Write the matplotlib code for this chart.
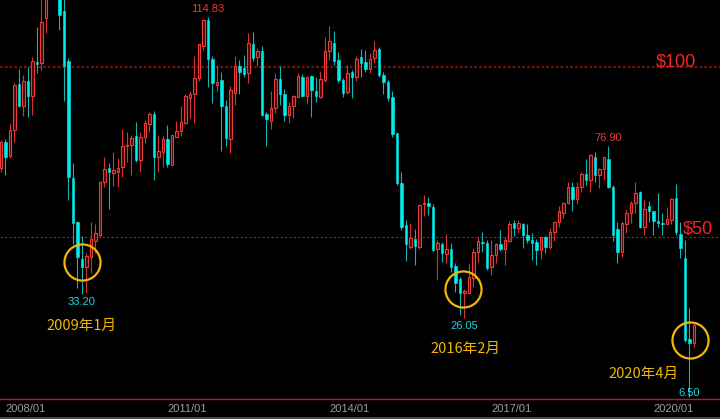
import numpy as np
import matplotlib
matplotlib.use("Agg")
import matplotlib.pyplot as plt
from matplotlib.patches import Rectangle

plt.rcParams['font.family'] = ['Liberation Sans', 'Noto Sans CJK SC', 'DejaVu Sans']

# monthly candles, first one is 2007/07
start_year, start_month = 2007, 7

opens = [70.2, 78.0, 73.8, 81.5, 95.0, 88.5, 95.9, 91.4, 101.6, 101.1, 114.3, 127.8,
         140.0, 124.1, 116.5, 101.8, 67.3, 54.5, 43.4, 41.3, 44.0, 48.9, 50.6, 66.3,
         70.4, 68.9, 69.2, 70.5, 76.9, 77.1, 79.7, 72.6, 79.5, 83.2, 86.1, 73.6,
         75.1, 78.7, 71.2, 79.5, 81.2, 83.4, 91.0, 92.0, 96.7, 106.3, 113.8, 102.4,
         94.7, 96.2, 88.5, 78.7, 92.3, 100.4, 99.6, 98.1, 106.8, 103.0, 104.8, 86.2,
         84.2, 87.8, 96.4, 92.0, 85.9, 88.5, 91.3, 97.2, 91.5, 97.4, 93.0, 91.1,
         96.2, 104.8, 107.2, 102.1, 96.2, 92.5, 98.6, 97.0, 103.0, 101.6, 99.3, 102.5,
         105.2, 97.6, 95.7, 91.3, 80.5, 66.0, 53.5, 47.2, 49.3, 47.0, 59.7, 60.1,
         58.9, 46.4, 47.9, 45.0, 46.4, 41.5, 37.5, 33.4, 33.4, 37.8, 45.7, 48.6,
         48.1, 41.1, 44.7, 47.9, 46.4, 48.9, 54.0, 52.5, 53.8, 50.6, 49.1, 48.6,
         46.2, 49.9, 47.0, 51.6, 54.5, 57.2, 59.9, 64.6, 61.1, 64.6, 68.5, 66.8,
         73.4, 68.2, 69.9, 72.8, 64.8, 52.3, 45.7, 53.8, 57.0, 59.9, 63.3, 52.8,
         59.1, 57.7, 54.8, 54.2, 53.8, 55.0, 61.4, 50.8, 43.7, 19.9, 18.7]
highs = [78.5, 78.7, 83.6, 95.2, 99.3, 97.6, 100.1, 103.0, 111.7, 121.0, 135.0, 140.4,
         147.3, 128.6, 130.0, 102.7, 71.7, 54.8, 50.3, 45.2, 54.5, 53.8, 66.5, 73.4,
         71.7, 75.1, 73.1, 81.7, 81.0, 80.0, 83.9, 81.0, 84.4, 86.9, 87.1, 80.0,
         79.7, 82.9, 80.0, 84.2, 88.5, 92.0, 93.0, 103.2, 106.8, 114.0, 114.83, 103.2,
         100.6, 98.6, 90.3, 94.4, 103.2, 102.1, 103.5, 110.1, 110.4, 105.5, 106.2, 86.9,
         93.0, 98.3, 100.3, 93.4, 89.8, 91.8, 98.1, 97.9, 97.4, 97.6, 97.2, 98.9,
         108.7, 112.1, 110.7, 104.5, 96.7, 100.6, 99.1, 103.2, 105.2, 104.9, 104.2, 107.5,
         106.0, 98.6, 96.2, 93.0, 80.7, 69.2, 55.0, 54.2, 52.3, 59.7, 62.4, 61.7,
         59.7, 49.1, 48.6, 50.8, 48.1, 42.3, 38.2, 34.6, 42.3, 46.7, 49.9, 51.6,
         49.1, 49.1, 48.3, 52.1, 49.9, 54.8, 55.0, 55.0, 54.2, 53.8, 51.1, 49.3,
         50.1, 50.3, 52.5, 54.8, 59.1, 60.4, 66.3, 66.3, 66.3, 69.2, 72.8, 74.4,
         75.1, 70.2, 73.6, 76.9, 65.3, 54.5, 54.5, 58.1, 60.7, 66.3, 63.6, 60.9,
         60.7, 57.7, 63.0, 57.0, 58.8, 61.4, 65.6, 54.5, 49.1, 29.0, 24.8]
lows = [69.2, 68.2, 73.1, 78.0, 88.1, 85.6, 85.2, 85.9, 98.3, 99.1, 110.1, 122.3,
        120.4, 110.9, 90.1, 60.9, 47.9, 34.9, 33.2, 33.4, 39.3, 45.2, 50.1, 64.8,
        58.1, 65.0, 64.8, 67.7, 72.2, 68.2, 72.2, 69.2, 77.5, 81.0, 66.8, 69.2,
        70.7, 70.5, 71.2, 79.5, 79.7, 83.2, 84.9, 83.4, 95.9, 105.0, 94.2, 89.3,
        93.0, 75.4, 76.8, 74.8, 88.8, 92.1, 97.0, 95.2, 101.8, 100.3, 85.6, 76.8,
        81.7, 86.6, 88.8, 84.2, 83.6, 84.9, 91.1, 91.1, 89.1, 85.4, 89.8, 90.8,
        95.7, 102.1, 100.6, 95.4, 91.3, 92.1, 90.8, 96.0, 97.0, 98.6, 98.3, 101.1,
        97.2, 92.1, 90.1, 79.3, 65.3, 52.1, 43.0, 46.4, 41.8, 46.4, 56.2, 56.4,
        46.0, 37.4, 42.7, 42.3, 39.8, 33.9, 27.1, 26.05, 33.3, 35.2, 42.7, 45.7,
        40.3, 38.8, 42.3, 46.0, 41.8, 48.6, 50.3, 51.1, 46.7, 48.1, 43.2, 41.8,
        43.4, 45.4, 46.4, 48.8, 53.0, 55.5, 59.7, 57.7, 59.7, 63.3, 65.3, 63.3,
        66.3, 64.3, 66.8, 64.3, 48.9, 42.3, 44.0, 51.1, 54.2, 57.0, 52.5, 50.6,
        54.5, 50.6, 53.0, 50.6, 53.7, 53.8, 50.6, 43.7, 19.2, 3.0, 17.7]
closes = [78.0, 73.6, 81.5, 94.7, 88.5, 95.9, 91.5, 101.8, 101.0, 113.2, 127.4, 140.0,
          124.1, 115.3, 100.3, 67.5, 54.2, 44.2, 41.3, 44.5, 49.3, 51.1, 66.3, 69.9,
          69.2, 69.7, 70.4, 76.8, 77.1, 79.2, 72.6, 79.5, 83.6, 86.2, 73.6, 75.4,
          78.7, 71.5, 80.0, 81.2, 83.9, 91.5, 92.1, 96.9, 106.8, 113.8, 102.3, 95.2,
          95.6, 88.5, 79.0, 93.2, 100.3, 98.6, 97.9, 107.0, 102.7, 104.8, 85.9, 84.6,
          87.8, 96.4, 92.0, 85.9, 88.6, 91.5, 97.4, 91.5, 97.2, 93.2, 91.6, 96.4,
          104.8, 107.5, 101.9, 96.2, 92.3, 98.1, 97.2, 102.3, 101.1, 99.3, 102.3, 105.0,
          97.6, 95.7, 90.8, 80.3, 66.0, 52.8, 47.9, 49.6, 47.4, 59.4, 60.1, 59.1,
          46.2, 48.1, 45.2, 46.4, 41.3, 36.6, 33.4, 34.2, 38.1, 45.7, 48.9, 48.1,
          40.8, 44.7, 47.9, 46.4, 49.1, 53.8, 52.5, 54.0, 50.6, 49.1, 48.3, 46.2,
          49.9, 47.0, 51.6, 54.5, 57.5, 60.1, 64.6, 61.1, 64.8, 68.5, 66.8, 74.1,
          68.2, 69.9, 73.4, 64.6, 50.6, 45.7, 54.0, 57.2, 60.1, 63.0, 52.8, 58.1,
          57.5, 54.8, 54.2, 53.8, 55.2, 61.1, 51.6, 46.7, 19.7, 18.9, 24.1]

tick_labels = ['2008/01', '2011/01', '2014/01', '2017/01', '2020/01']
price_lines = [100, 50]
# (month label, value) for high / low marks
top_marks = [('2011/05', 114.83), ('2018/10', 76.90)]
low_marks = [('2009/01', 33.20), ('2016/02', 26.05), ('2020/04', 6.50)]
low_names = ['2009年1月', '2016年2月', '2020年4月']


def month_pos(s):
    y, m = s.split('/')
    return (int(y) - start_year) * 12 + int(m) - start_month


o = np.array(opens)
h = np.array(highs)
l = np.array(lows)
c = np.array(closes)
x = np.arange(len(o))
up = c >= o

red = '#ec3a36'
cyan = '#00eeee'
gold = '#f2b705'

fig = plt.figure(figsize=(7.2, 4.19), dpi=100, facecolor='black')
ax = fig.add_axes([0, 20 / 419, 1, 399 / 419])
ax.set_facecolor('black')

# wicks
ax.vlines(x[up], l[up], h[up], color='#d83232', lw=0.8, zorder=2)
ax.vlines(x[~up], l[~up], h[~up], color='#12b4b4', lw=0.8, zorder=2)

# bodies
w = 0.62
body_up = np.maximum(c[up] - o[up], 0.3)
body_dn = np.maximum(o[~up] - c[~up], 0.3)
ax.bar(x[up], body_up, bottom=o[up], width=w, facecolor='#3a0b0b',
       edgecolor=red, linewidth=0.8, zorder=3)
ax.bar(x[~up], body_dn, bottom=c[~up], width=w, facecolor=cyan,
       edgecolor=cyan, linewidth=0.4, zorder=3)

# price levels
ax.axhline(price_lines[0], color='#7c1010', lw=1.5, dashes=(1.3, 1.0), zorder=1)
ax.axhline(price_lines[1], color='#b01c1c', lw=0.8, dashes=(2.0, 2.0), zorder=1)
ax.annotate('$100', (150, price_lines[0]), xytext=(0, 3.5), textcoords='offset points',
            ha='center', va='center', color='#ff2222', fontsize=13)
ax.annotate('$50', (154.8, price_lines[1]), xytext=(0, 5.5), textcoords='offset points',
            ha='center', va='center', color='#ff2222', fontsize=13)

for lab, v in top_marks:
    ax.annotate('%.2f' % v, (month_pos(lab), v), xytext=(0, 5.5), textcoords='offset points',
                ha='center', va='center', color='#e83a3a', fontsize=8)

name_off = [-23, -22, 7.8]
circ_dy = [9.4, 8.7, 13.2]
circ_dx = [0, -0.3, 0.1]
name_dx = [-0.2, 0.2, -10.1]
for (lab, v), name, nd, cy, cx, ndx in zip(low_marks, low_names, name_off, circ_dy, circ_dx, name_dx):
    px = month_pos(lab)
    ax.annotate('%.2f' % v, (px, v), xytext=(0, -5.8), textcoords='offset points',
                ha='center', va='center', color='#19d3e0', fontsize=8, zorder=5)
    ax.plot(px + cx, v + cy, marker='o', ms=26, mfc='none', mec=gold, mew=1.6, zorder=6)
    ax.annotate(name, (px + ndx, v), xytext=(0, nd), textcoords='offset points',
                ha='center', va='center', color=gold, fontsize=10.5,
                family=['Noto Sans CJK SC', 'DejaVu Sans'])

ax.set_xlim(-0.22, 159.8)
ax.set_ylim(2.35, 119.7)
ax.set_xticks([month_pos(t) - 0.6 for t in tick_labels])
ax.set_xticklabels(tick_labels, color='#9c9c9c', fontsize=8)
ax.tick_params(axis='x', length=0, pad=3.5)
ax.set_yticks([])
for s in ['top', 'left', 'right']:
    ax.spines[s].set_visible(False)
ax.spines['bottom'].set_color('#c01818')
ax.spines['bottom'].set_linewidth(1.0)

fig.patches.append(Rectangle((0, 0), 1, 2 / 419, transform=fig.transFigure,
                             facecolor='#4a4a4a', edgecolor='none'))

fig.savefig('out.png', dpi=100, facecolor='black')
